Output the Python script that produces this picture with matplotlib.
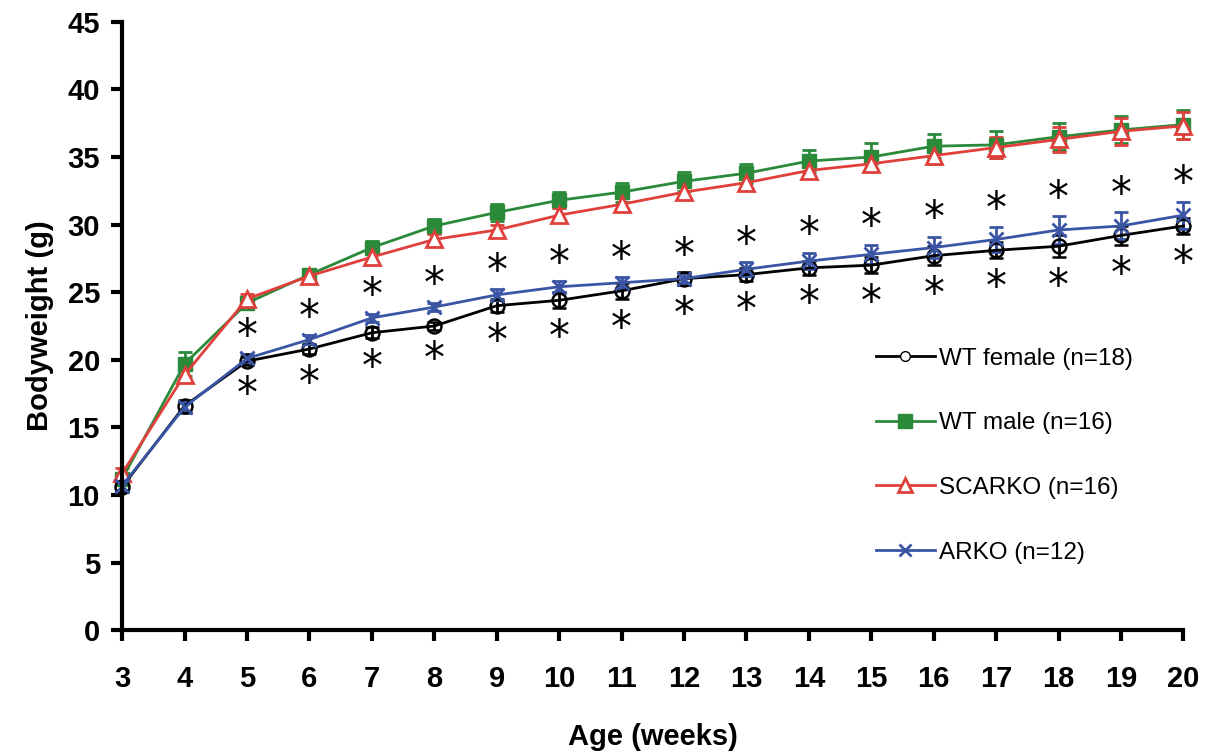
import numpy as np
import matplotlib
matplotlib.use("Agg")
import matplotlib.pyplot as plt
from matplotlib.lines import Line2D

plt.rcParams['font.family'] = ['Liberation Sans', 'DejaVu Sans']

weeks = np.arange(3, 21)

wt_female = [10.6, 16.6, 19.9, 20.8, 22.0, 22.5, 24.0, 24.4, 25.1, 26.0, 26.3, 26.8, 27.0, 27.7, 28.1, 28.4, 29.2, 29.9]
wt_female_err = [0.4, 0.4, 0.3, 0.4, 0.4, 0.3, 0.5, 0.6, 0.6, 0.5, 0.5, 0.5, 0.6, 0.7, 0.6, 0.8, 0.7, 0.6]

wt_male = [11.2, 19.7, 24.2, 26.3, 28.3, 29.9, 30.9, 31.8, 32.4, 33.2, 33.8, 34.7, 35.0, 35.8, 35.9, 36.5, 37.0, 37.4]
wt_male_err = [0.4, 0.9, 0.4, 0.3, 0.5, 0.5, 0.6, 0.6, 0.7, 0.7, 0.7, 0.8, 1.0, 0.9, 1.0, 1.0, 1.0, 1.1]

scarko = [11.6, 18.9, 24.5, 26.2, 27.6, 28.9, 29.6, 30.7, 31.5, 32.4, 33.1, 34.0, 34.5, 35.1, 35.7, 36.3, 36.9, 37.3]
scarko_err = [0.4, 0.4, 0.4, 0.3, 0.4, 0.4, 0.4, 0.5, 0.5, 0.5, 0.5, 0.5, 0.5, 0.6, 0.8, 0.9, 1.0, 1.0]

arko = [10.7, 16.5, 20.1, 21.5, 23.1, 23.9, 24.8, 25.4, 25.7, 26.0, 26.7, 27.3, 27.8, 28.3, 28.9, 29.6, 29.9, 30.7]
arko_err = [0.3, 0.4, 0.3, 0.3, 0.3, 0.3, 0.4, 0.4, 0.4, 0.4, 0.5, 0.6, 0.7, 0.8, 0.9, 1.0, 1.0, 1.0]

# weeks with significance stars (above ARKO and below WT female)
star_weeks = np.arange(5, 21)

green = '#2a8a3a'
red = '#e0403c'
blue = '#3b55a5'

fig = plt.figure(figsize=(12.1, 7.52), dpi=100)
ax = fig.add_axes([0.101, 0.162, 0.877, 0.809])

common = dict(capsize=5, capthick=2, elinewidth=2, linewidth=2, clip_on=False)
ax.errorbar(weeks, wt_male, yerr=wt_male_err, color=green, marker='s', ms=10,
            mfc=green, mec=green, **common)
ax.errorbar(weeks, scarko, yerr=scarko_err, color=red, marker='^', ms=11,
            mfc='white', mec=red, mew=2, **common)
ax.errorbar(weeks, wt_female, yerr=wt_female_err, color='black', marker='o', ms=10,
            mfc='none', mec='black', mew=1.8, **common)
ax.errorbar(weeks, arko, yerr=arko_err, color=blue, marker='x', ms=10,
            mew=2, **common)

for w in star_weeks:
    i = w - 3
    ax.text(w, arko[i] + arko_err[i] + 1.3, '*', ha='center', va='center',
            fontsize=30, family='DejaVu Sans')
    ax.text(w, wt_female[i] - wt_female_err[i] - 2.2, '*', ha='center', va='center',
            fontsize=30, family='DejaVu Sans')

ax.set_xlim(3, 20)
ax.set_ylim(0, 45)
ax.set_xticks(weeks)
ax.set_yticks(np.arange(0, 46, 5))
for s in ['top', 'right']:
    ax.spines[s].set_visible(False)
for s in ['left', 'bottom']:
    ax.spines[s].set_linewidth(3)
ax.tick_params(axis='both', width=3, length=8, direction='out', labelsize=21)
ax.tick_params(axis='x', pad=17)
ax.tick_params(axis='y', pad=8)
for lab in ax.get_xticklabels() + ax.get_yticklabels():
    lab.set_fontweight('bold')

ax.set_xlabel('Age (weeks)', fontsize=21, fontweight='bold', labelpad=22)
ax.set_ylabel('Bodyweight (g)', fontsize=21, fontweight='bold', labelpad=10)

handles = [
    Line2D([], [], color='black', marker='o', ms=7, mfc='white', mec='black', lw=2),
    Line2D([], [], color=green, marker='s', ms=10, mfc=green, mec=green, lw=2),
    Line2D([], [], color=red, marker='^', ms=10, mfc='white', mec=red, mew=2, lw=2),
    Line2D([], [], color=blue, marker='x', ms=9, mew=2, lw=2),
]
labels = ['WT female (n=18)', 'WT male (n=16)', 'SCARKO (n=16)', 'ARKO (n=12)']
ax.legend(handles, labels, loc='upper left', bbox_to_anchor=(0.69, 0.5), frameon=False,
          fontsize=17.5, labelspacing=1.75, handlelength=2.4, handletextpad=0.2)

fig.savefig('out.png', dpi=100)
